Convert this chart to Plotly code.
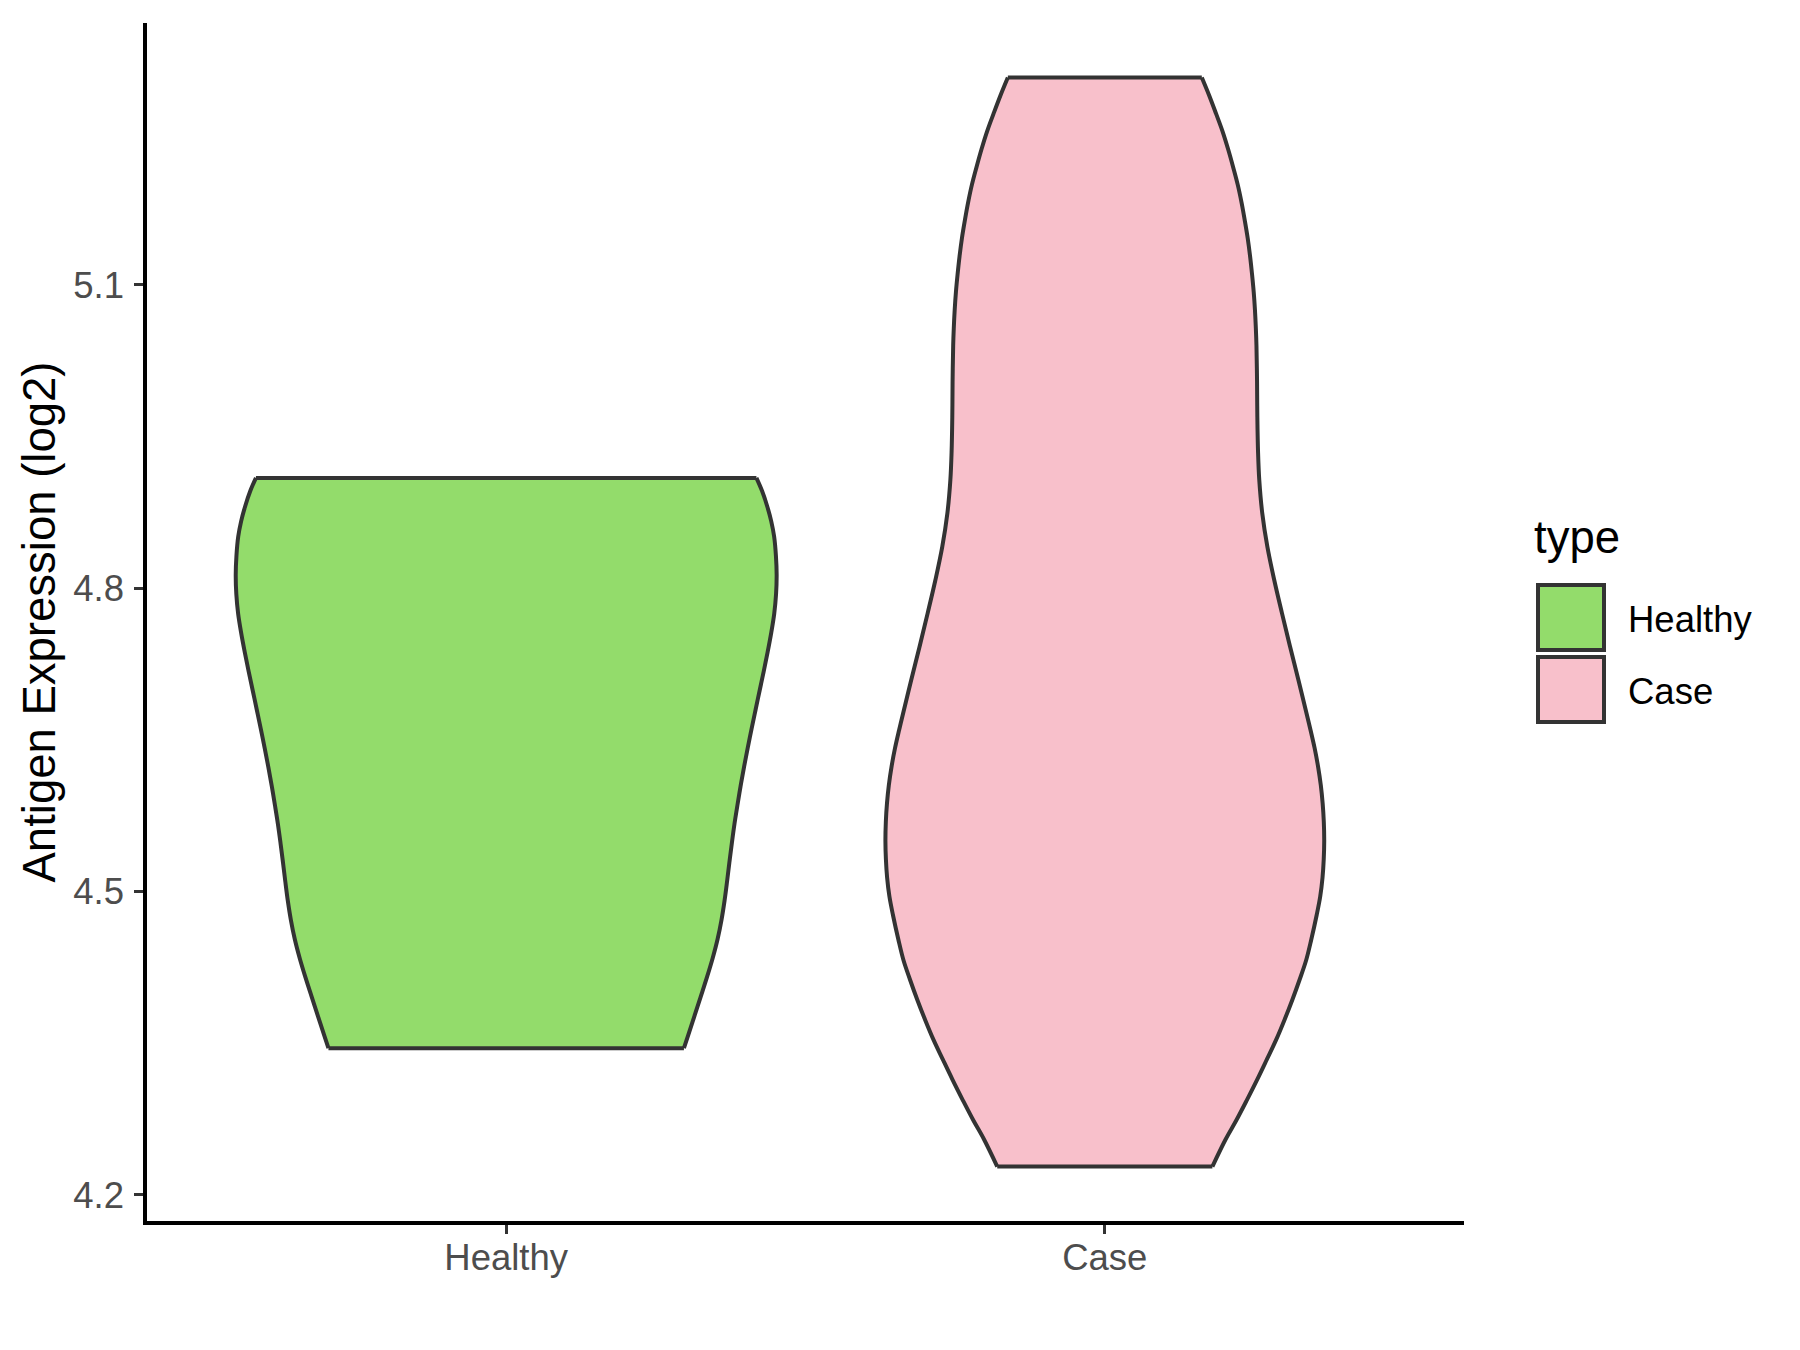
import plotly.graph_objects as go

# ---------------- data ----------------
categories = ["Healthy", "Case"]

# violin outline: expression levels (log2) and half-widths (in category units)
healthy_y = [4.909, 4.896, 4.881, 4.866, 4.851, 4.832, 4.813, 4.794, 4.775,
             4.756, 4.737, 4.718, 4.699, 4.680, 4.661, 4.642, 4.623, 4.604,
             4.585, 4.567, 4.548, 4.529, 4.510, 4.491, 4.472, 4.453, 4.434,
             4.415, 4.396, 4.377, 4.358, 4.345]
healthy_hw = [0.4180, 0.4275, 0.4360, 0.4428, 0.4476, 0.4506, 0.4518, 0.4508,
              0.4478, 0.4428, 0.4368, 0.4303, 0.4235, 0.4167, 0.4100, 0.4035,
              0.3973, 0.3915, 0.3862, 0.3814, 0.3770, 0.3729, 0.3690, 0.3648,
              0.3597, 0.3532, 0.3449, 0.3353, 0.3250, 0.3146, 0.3041, 0.2969]

case_y = [5.305, 5.287, 5.269, 5.252, 5.234, 5.216, 5.199, 5.181, 5.163,
          5.146, 5.128, 5.110, 5.093, 5.075, 5.057, 5.040, 5.004, 4.969,
          4.934, 4.907, 4.874, 4.841, 4.808, 4.775, 4.742, 4.709, 4.676,
          4.660, 4.642, 4.624, 4.605, 4.587, 4.569, 4.550, 4.532, 4.514,
          4.495, 4.477, 4.452, 4.432, 4.413, 4.393, 4.373, 4.353, 4.334,
          4.314, 4.294, 4.274, 4.255, 4.228]
case_hw = [0.1620, 0.1745, 0.1860, 0.1965, 0.2060, 0.2145, 0.2220, 0.2285,
           0.2340, 0.2387, 0.2427, 0.2460, 0.2487, 0.2508, 0.2523, 0.2533,
           0.2543, 0.2548, 0.2560, 0.2580, 0.2630, 0.2715, 0.2830, 0.2960,
           0.3095, 0.3235, 0.3370, 0.3435, 0.3504, 0.3561, 0.3608, 0.3639,
           0.3658, 0.3665, 0.3657, 0.3637, 0.3598, 0.3540, 0.3447, 0.3363,
           0.3255, 0.3133, 0.3001, 0.2859, 0.2707, 0.2545, 0.2375, 0.2199,
           0.2019, 0.1797]

y_ticks = [4.2, 4.5, 4.8, 5.1]

# ---------------- styles ----------------
FILL = {"Healthy": "#93DC6B", "Case": "#F8C0CB"}
OUTLINE = "#333333"
FONT = "Liberation Sans, Arial, sans-serif"
LW = 4
AXIS_LW = 3.5
TICK_SIZE = 36.5
TITLE_SIZE = 45.5

profiles = {"Healthy": (healthy_y, healthy_hw), "Case": (case_y, case_hw)}

fig = go.Figure()

# sides of each violin (fill between left and right smooth curves)
for i, cat in enumerate(categories, start=1):
    ys, hws = profiles[cat]
    fig.add_trace(go.Scatter(
        x=[i - w for w in hws], y=ys, mode="lines",
        line=dict(color=OUTLINE, width=LW, shape="spline", smoothing=1),
        showlegend=False, hoverinfo="skip"))
    fig.add_trace(go.Scatter(
        x=[i + w for w in hws], y=ys, mode="lines",
        line=dict(color=OUTLINE, width=LW, shape="spline", smoothing=1),
        fill="tonextx", fillcolor=FILL[cat],
        showlegend=False, hoverinfo="skip"))

# flat top and bottom caps
for i, cat in enumerate(categories, start=1):
    ys, hws = profiles[cat]
    fig.add_trace(go.Scatter(
        x=[i - hws[0], i + hws[0], None, i - hws[-1], i + hws[-1]],
        y=[ys[0], ys[0], None, ys[-1], ys[-1]],
        mode="lines", line=dict(color=OUTLINE, width=LW),
        showlegend=False, hoverinfo="skip"))

all_y = healthy_y + case_y
lo, hi = min(all_y), max(all_y)
pad = 0.05 * (hi - lo)

W, H = 1800, 1350
PAGE_OFF = 8  # browser body margin
# plot area on screen: x 147..1464, y 23..1221
ML, MT = 147 - PAGE_OFF, 23 - PAGE_OFF
PW, PH = 1317, 1198
MR, MB = W - ML - PW, H - MT - PH


def px_x(px):
    return (px - 147) / PW


def px_y(py):
    return (1221 - py) / PH


fig.update_layout(
    width=W, height=H,
    margin=dict(l=ML, r=MR, t=MT, b=MB),
    paper_bgcolor="white", plot_bgcolor="white",
    font=dict(family=FONT, color="#000000"),
    showlegend=False,
    xaxis=dict(
        range=[0.4, 2.6], tickmode="array", tickvals=[1, 2], ticktext=categories,
        showline=True, linecolor="black", linewidth=AXIS_LW,
        ticks="outside", ticklen=9, tickwidth=3, tickcolor=OUTLINE,
        tickfont=dict(family=FONT, size=TICK_SIZE, color="#4D4D4D"),
        ticklabelstandoff=-8,
        showgrid=False, zeroline=False, fixedrange=True,
    ),
    yaxis=dict(
        range=[lo - pad, hi + pad], tickmode="array", tickvals=y_ticks,
        ticktext=[f"{v:.1f}" for v in y_ticks],
        showline=True, linecolor="black", linewidth=AXIS_LW,
        ticks="outside", ticklen=9, tickwidth=3, tickcolor=OUTLINE,
        tickfont=dict(family=FONT, size=TICK_SIZE, color="#4D4D4D"),
        ticklabelstandoff=3,
        showgrid=False, zeroline=False, fixedrange=True,
        title=dict(text="Antigen Expression (log2)",
                   font=dict(family=FONT, size=TITLE_SIZE, color="#000000"),
                   standoff=4),
    ),
)

# manual legend (ggplot-style)
fig.add_annotation(text="type", xref="paper", yref="paper",
                   x=px_x(1532), y=px_y(538), xanchor="left", yanchor="middle",
                   showarrow=False, font=dict(family=FONT, size=TITLE_SIZE, color="#000000"))
key_tops = [585, 657]
label_y = [619, 691]
for k, cat in enumerate(categories):
    top = key_tops[k]
    fig.add_shape(type="rect", xref="paper", yref="paper",
                  x0=px_x(1538), x1=px_x(1604), y0=px_y(top), y1=px_y(top + 65),
                  fillcolor=FILL[cat], line=dict(color=OUTLINE, width=LW))
    fig.add_annotation(text=cat, xref="paper", yref="paper",
                       x=px_x(1626), y=px_y(label_y[k]), xanchor="left",
                       yanchor="middle", showarrow=False,
                       font=dict(family=FONT, size=TICK_SIZE, color="#000000"))

fig.write_html("out.html")
